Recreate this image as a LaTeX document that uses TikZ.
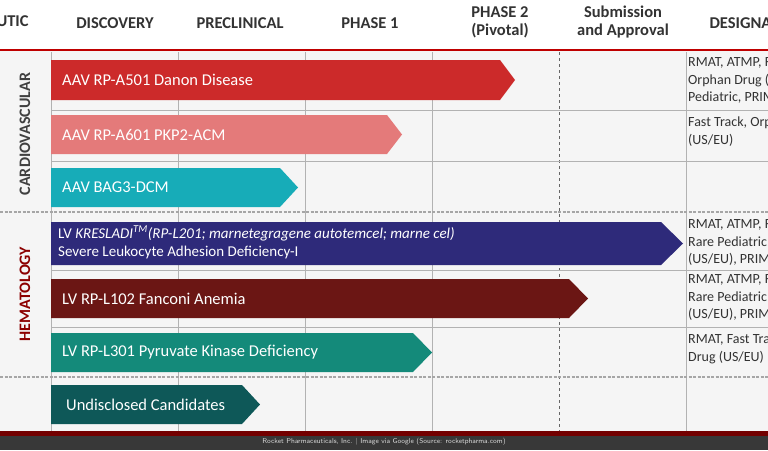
\documentclass[tikz,border=0pt]{standalone}
\usepackage{fontspec}
\setmainfont{Carlito}
\begin{document}
\begin{tikzpicture}[x=1pt,y=-1pt,
  hdr/.style={font=\bfseries\fontsize{16.5}{18}\selectfont,text=black!80,align=center},
  bartxt/.style={anchor=west,text=white,font=\fontsize{16.5}{18}\selectfont,inner sep=0},
  des/.style={anchor=north west,text=black!80,font=\fontsize{14}{17.5}\selectfont,align=left,inner sep=0},
  grid/.style={draw=black!30,line width=0.8pt},
  dotln/.style={draw=black!35,line width=2pt,dash pattern=on 3pt off 1.5pt}]
\useasboundingbox (0,0) rectangle (768,450);
\clip (0,0) rectangle (768,450);
\fill[white] (0,0) rectangle (768,50);
\fill[black!4] (0,51) rectangle (768,433);
% grid
\foreach \x in {51,178,305,432,686} \draw[grid] (\x,52) -- (\x,432);
\draw[black!60,dashed,line width=0.8pt] (559,52) -- (559,432);
\foreach \y in {110,161,270,327} \draw[grid] (51,\y) -- (768,\y);
\draw[dotln] (0,212) -- (768,212);
\draw[dotln] (0,377) -- (768,377);
\draw[red!75!black,line width=2pt] (0,50) -- (768,50);
% headers
\node[hdr,anchor=west] (h0) at (-7,21) {UTIC};
\node[hdr] (h1) at (115,23) {DISCOVERY};
\node[hdr] (h2) at (240,23) {PRECLINICAL};
\node[hdr] (h3) at (370,23) {PHASE 1};
\node[hdr] (h4) at (500,22) {PHASE 2\\(Pivotal)};
\node[hdr] (h5) at (623,22) {Submission\\and Approval};
\node[hdr,anchor=west] (h6) at (706,23) {DESIGNATIONS};
% side labels
\node[rotate=90,font=\bfseries\fontsize{16}{17}\selectfont,text=black!75] (cv) at (25,134) {CARDIOVASCULAR};
\node[rotate=90,font=\bfseries\fontsize{16}{17}\selectfont,text=red!55!black] (hem) at (25,294) {HEMATOLOGY};
% bars
\fill[fill={rgb,255:red,204;green,42;blue,42}] (51,60) -- (500,60) -- (515,80) -- (500,100) -- (51,100) -- cycle;
\node[bartxt] (b1) at (62,80) {AAV RP-A501 Danon Disease};
\fill[fill={rgb,255:red,228;green,122;blue,122}] (51,115) -- (387,115) -- (402,134.5) -- (387,154) -- (51,154) -- cycle;
\node[bartxt] (b2) at (62,134.5) {AAV RP-A601 PKP2-ACM};
\fill[fill={rgb,255:red,23;green,172;blue,184}] (51,168) -- (280,168) -- (298,187.5) -- (280,207) -- (51,207) -- cycle;
\node[bartxt] (b3) at (62,187.5) {AAV BAG3-DCM};
\fill[fill={rgb,255:red,46;green,42;blue,122}] (51,222) -- (661,222) -- (683,243.5) -- (661,265) -- (51,265) -- cycle;
\node[bartxt,anchor=north west,align=left,font=\fontsize{15}{18.5}\selectfont] (b4) at (58,226) {LV \textit{KRESLADI\textsuperscript{TM}(RP-L201; marnetegragene autotemcel; marne cel)}\\Severe Leukocyte Adhesion Deficiency-I};
\fill[fill={rgb,255:red,107;green,22;blue,20}] (51,279) -- (569,279) -- (588,298.5) -- (569,318) -- (51,318) -- cycle;
\node[bartxt] (b5) at (62,298.5) {LV RP-L102 Fanconi Anemia};
\fill[fill={rgb,255:red,20;green,138;blue,122}] (51,333) -- (413,333) -- (432,352.5) -- (413,372) -- (51,372) -- cycle;
\node[bartxt] (b6) at (62,352.5) {LV RP-L301 Pyruvate Kinase Deficiency};
\fill[fill={rgb,255:red,14;green,88;blue,88}] (51,385) -- (242,385) -- (260,404.5) -- (242,424) -- (51,424) -- cycle;
\node[bartxt] (b7) at (66,404.5) {Undisclosed Candidates};
% designations
\node[des] (d1) at (688,57) {RMAT, ATMP, Fast Track,\\Orphan Drug (US/EU), Rare\\Pediatric, PRIME};
\node[des] (d2) at (688,117) {Fast Track, Orphan Drug\\(US/EU)};
\node[des] (d4) at (688,219) {RMAT, ATMP, Fast Track,\\Rare Pediatric, Orphan Drug\\(US/EU), PRIME};
\node[des] (d5) at (688,274) {RMAT, ATMP, Fast Track,\\Rare Pediatric, Orphan Drug\\(US/EU), PRIME};
\node[des] (d6) at (688,334) {RMAT, Fast Track, Orphan\\Drug (US/EU)};
% footer
\fill[red!45!black] (0,431) rectangle (768,436);
\fill[black!78] (0,436) rectangle (768,450);
\node[text=black!15,font=\sffamily\fontsize{7}{7}\selectfont] (ft) at (384,442) {Rocket Pharmaceuticals, Inc. | Image via Google (Source: rocketpharma.com)};
\end{tikzpicture}
\end{document}
